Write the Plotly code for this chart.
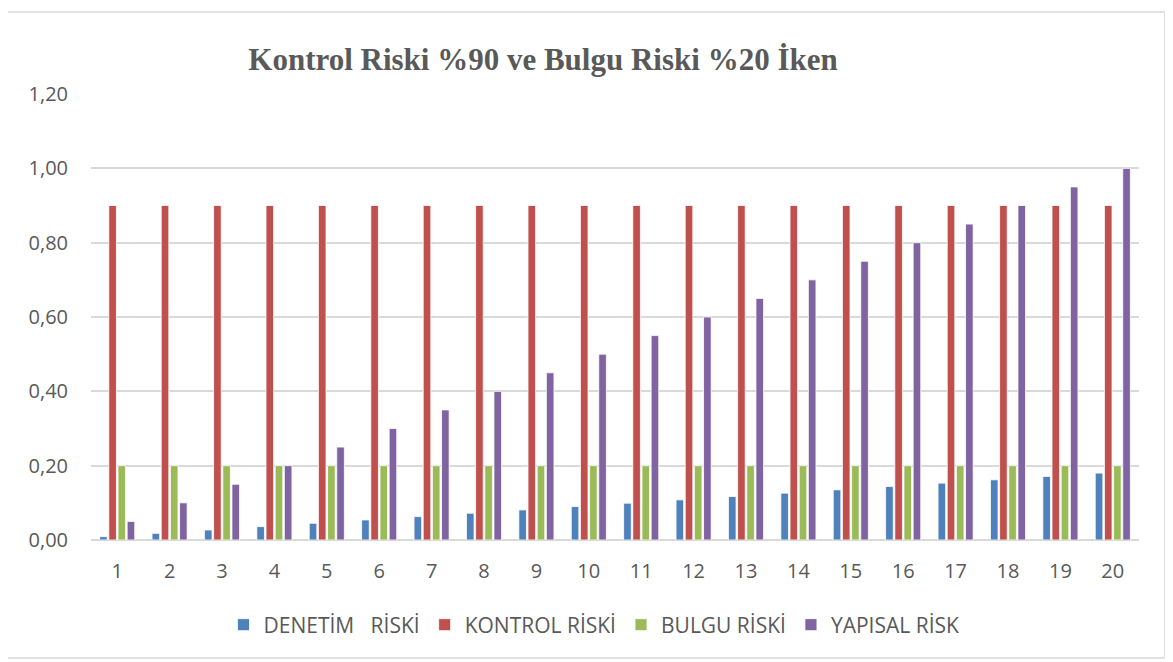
import plotly.graph_objects as go

categories = [str(i) for i in range(1, 21)]
denetim_riski = [0.009, 0.018, 0.027, 0.036, 0.045, 0.054, 0.063, 0.072, 0.081, 0.090,
                 0.099, 0.108, 0.117, 0.126, 0.135, 0.144, 0.153, 0.162, 0.171, 0.180]
kontrol_riski = [0.90] * 20
bulgu_riski = [0.20] * 20
yapisal_risk = [0.05, 0.10, 0.15, 0.20, 0.25, 0.30, 0.35, 0.40, 0.45, 0.50,
                0.55, 0.60, 0.65, 0.70, 0.75, 0.80, 0.85, 0.90, 0.95, 1.00]
y_ticks = [0, 0.2, 0.4, 0.6, 0.8, 1.0, 1.2]
y_tick_labels = ["0,00", "0,20", "0,40", "0,60", "0,80", "1,00", "1,20"]

series = [
    ("DENETİM\u00a0\u00a0\u00a0RİSKİ", denetim_riski, "#4F81BD"),
    ("KONTROL RİSKİ", kontrol_riski, "#C0504D"),
    ("BULGU RİSKİ", bulgu_riski, "#9BBB59"),
    ("YAPISAL RİSK", yapisal_risk, "#8064A2"),
]

fig = go.Figure()
for name, vals, col in series:
    fig.add_trace(go.Bar(x=categories, y=vals, name=name,
                         marker=dict(color=col, line=dict(color="white", width=0.8))))

OFF = 8  # page body margin
W, H = 1173 - OFF, 662 - OFF
# desired screen positions
SL, SR, ST, SB = 91, 1139, 94, 540
L, T = SL - OFF, ST - OFF
R = W - (SR - OFF)
B = H - (SB - OFF)
pw, ph = W - L - R, H - T - B

def px(x):
    return (x - OFF - L) / pw

def py(y):
    return (H - B - (y - OFF)) / ph

fig.update_layout(
    width=W, height=H,
    margin=dict(l=L, r=R, t=T, b=B),
    paper_bgcolor="white", plot_bgcolor="white",
    barmode="group", bargap=0.30, bargroupgap=0.17,
    title=dict(text="<b>Kontrol Riski %90 ve Bulgu Riski %20 İken</b>",
               font=dict(family="Liberation Serif", size=31, color="#595959"),
               x=(543 - OFF) / W, xanchor="center", y=1 - (59 - OFF) / H, yanchor="middle"),
    font=dict(family="Open Sans", color="#595959"),
    xaxis=dict(showgrid=False, showline=False, ticks="",
               tickfont=dict(size=20, color="#595959"), ticklabelstandoff=17),
    yaxis=dict(range=[0, 1.2], tickvals=y_ticks, ticktext=y_tick_labels,
               showgrid=True, gridcolor="#D9D9D9", gridwidth=1.5,
               zeroline=True, zerolinecolor="#D9D9D9", zerolinewidth=1.5,
               tickfont=dict(size=20, color="#595959"), ticklabelstandoff=22),
    legend=dict(orientation="h", x=px(594), xanchor="center",
                y=py(625), yanchor="middle",
                font=dict(size=21, color="#595959"), itemwidth=30,
                traceorder="normal"),
    showlegend=True,
    shapes=[dict(type="rect", xref="paper", yref="paper",
                 x0=px(5), x1=px(1165), y0=py(658), y1=py(12),
                 line=dict(color="#D9D9D9", width=1.5), layer="below")],
)

fig.write_html("out.html")
